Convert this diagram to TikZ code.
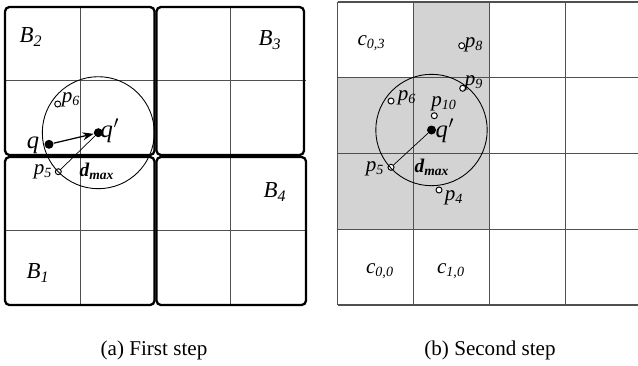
\documentclass[tikz,border=0pt]{standalone}
\usepackage{fontspec}
\setmainfont{LiberationSerif}[Extension=.ttf, UprightFont=*-Regular, BoldFont=*-Bold,
  ItalicFont=*-Italic, BoldItalicFont=*-BoldItalic]
\usetikzlibrary{arrows.meta}
\definecolor{gridc}{HTML}{505050}
\definecolor{shadec}{HTML}{D3D3D3}

\begin{document}
\begin{tikzpicture}[x=0.02cm, y=-0.02cm,
  block/.style={draw, line width=1.3pt, rounded corners=2.5pt},
  cell/.style={draw=gridc, line width=0.6pt},
  ring/.style={draw, line width=0.5pt},
  pt/.style={circle, draw, fill=white, line width=0.55pt, inner sep=0pt, minimum size=0.12cm},
  ctr/.style={circle, fill, inner sep=0pt, minimum size=0.18cm},
  lbl/.style={font=\fontsize{12}{14}\selectfont\itshape, inner sep=0pt},
  blbl/.style={font=\fontsize{13}{15}\selectfont\itshape, inner sep=0pt},
  qlbl/.style={font=\fontsize{14}{16}\selectfont\itshape, inner sep=0pt},
  dlbl/.style={font=\fontsize{11}{13}\selectfont\bfseries\itshape, inner sep=0pt},
  captxt/.style={font=\fontsize{12}{14}\selectfont, inner sep=0pt},
  vec/.style={-{Stealth[length=2.2mm, width=1.6mm]}, line width=0.7pt}
]
  \useasboundingbox (0,0) rectangle (638,365);

  % (a) first step: four blocks of 2x2 cells
  \foreach \x in {80.7,230.7} \draw[cell] (\x,7) -- (\x,305);
  \foreach \y in {80.7,230.7} \draw[cell] (5,\y) -- (306,\y);
  \draw[block] (5,7) rectangle (154.5,155);
  \draw[block] (156.5,7) rectangle (304,155);
  \draw[block] (5,157) rectangle (154.5,305);
  \draw[block] (156.5,157) rectangle (306,305);

  \node[blbl] (b1) at (38,273) {B\textsubscript{1}};
  \node[blbl] (b2) at (31,37) {B\textsubscript{2}};
  \node[blbl] (b3) at (270,40) {B\textsubscript{3}};
  \node[blbl] (b4) at (275,192) {B\textsubscript{4}};

  \node[ctr] (q) at (49,144.3) {};
  \node[ctr] (qa) at (98.3,132.7) {};
  \node[pt] (p6a) at (57.7,104) {};
  \node[pt] (p5a) at (58.3,171.7) {};
  \draw[ring] (qa.center) circle [radius=56];
  \draw[vec] (q) -- (qa);
  \draw[line width=0.4pt] (p5a) -- (qa);

  \node[qlbl] (lq) at (33,145) {q};
  \node[qlbl] (lqa) at (110,131) {q\kern0.5pt$'$};
  \node[lbl] (lp6a) at (71,100) {p\textsubscript{6}};
  \node[lbl] (lp5a) at (43,172) {p\textsubscript{5}};
  \node[dlbl] (lda) at (97,171) {d\textsubscript{max}};

  % (b) second step: cells of the grid
  \fill[shadec] (413.5,2) rectangle (489.5,229.25);
  \fill[shadec] (337.5,77.75) rectangle (413.5,229.25);
  \foreach \i in {0,...,4} \draw[cell] (337.5+76*\i,2) -- ++(0,303);
  \foreach \j in {0,...,4} \draw[cell] (337.5,2+75.75*\j) -- (645,2+75.75*\j);

  \node[ctr] (qb) at (431.5,130) {};
  \node[pt] (p4) at (439,190) {};
  \node[pt] (p5b) at (391,167.3) {};
  \node[pt] (p6b) at (391,101) {};
  \node[pt] (p8) at (461.7,45.7) {};
  \node[pt] (p9) at (462.7,88.3) {};
  \node[pt] (p10) at (434.3,115.7) {};
  \draw[ring] (qb.center) circle [radius=55.7];
  \draw[line width=0.4pt] (p5b) -- (qb);

  \node[lbl] (lc03) at (371.5,43) {c\textsubscript{0,3}};
  \node[lbl] (lc00) at (380,271) {c\textsubscript{0,0}};
  \node[lbl] (lc10) at (451,271) {c\textsubscript{1,0}};
  \node[lbl] (lp8) at (474,45) {p\textsubscript{8}};
  \node[lbl] (lp9) at (474,83) {p\textsubscript{9}};
  \node[lbl] (lp6b) at (407,98) {p\textsubscript{6}};
  \node[lbl] (lp10) at (444,104) {p\textsubscript{10}};
  \node[qlbl] (lqb) at (445,131) {q\kern0.5pt$'$};
  \node[lbl] (lp5b) at (375,169) {p\textsubscript{5}};
  \node[dlbl] (ldb) at (432,167) {d\textsubscript{max}};
  \node[lbl] (lp4) at (454,198) {p\textsubscript{4}};

  % captions
  \node[captxt] (capa) at (154,350) {(a) First step};
  \node[captxt] (capb) at (490,350) {(b) Second step};
\end{tikzpicture}
\end{document}
